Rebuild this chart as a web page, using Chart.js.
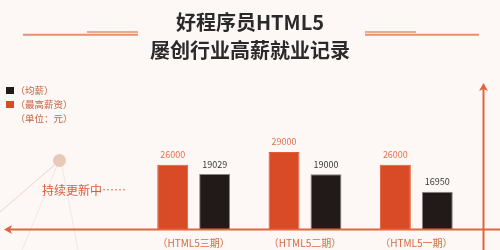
<!DOCTYPE html>
<html>
<head>
<meta charset="utf-8">
<script src="https://cdn.jsdelivr.net/npm/chart.js@4/dist/chart.umd.min.js"></script>
<style>
  html, body { margin: 0; padding: 0; background: #fdf8f5; }
  #wrap { width: 500px; height: 250px; position: relative; }
</style>
</head>
<body>
<div id="wrap"><canvas id="c" width="500" height="250"></canvas></div>
<script>
// Salary records per HTML5 class (元)
const categories = ['（HTML5三期）', '（HTML5二期）', '（HTML5一期）'];
const topSalary = [26000, 29000, 26000];   // 最高薪资
const avgSalary = [19029, 19000, 16950];   // 均薪
const titleLines = ['好程序员HTML5', '屡创行业高薪就业记录'];
const legendItems = ['（均薪）', '（最高薪资）', '（单位：元）'];
const note = '持续更新中……';

const CJK = '"Noto Sans CJK SC", "Noto Sans", sans-serif';
const ORANGE = '#d94b27';
const DARK = '#221a18';
const AXIS = '#e2643e';
const DECO = '#e8906e';

function arrow(ctx, tipX, tipY, dir) {
  // dir: 'left' or 'up'
  ctx.beginPath();
  if (dir === 'left') {
    ctx.moveTo(tipX, tipY);
    ctx.lineTo(tipX + 8, tipY - 4.5);
    ctx.lineTo(tipX + 6, tipY);
    ctx.lineTo(tipX + 8, tipY + 4.5);
  } else {
    ctx.moveTo(tipX, tipY);
    ctx.lineTo(tipX + 4.5, tipY + 8);
    ctx.lineTo(tipX, tipY + 6);
    ctx.lineTo(tipX - 4.5, tipY + 8);
  }
  ctx.closePath();
  ctx.fill();
}

const decor = {
  id: 'decor',
  beforeDraw(chart) {
    const ctx = chart.ctx;
    ctx.save();
    ctx.fillStyle = '#fdf8f5';
    ctx.fillRect(0, 0, chart.width, chart.height);

    // title
    ctx.fillStyle = '#2a2a2a';
    ctx.font = 'bold 20px ' + CJK;
    ctx.textAlign = 'center';
    ctx.textBaseline = 'middle';
    ctx.fillText(titleLines[0], 250, 22);
    ctx.fillText(titleLines[1], 250, 50);

    // title rules
    ctx.strokeStyle = DECO;
    ctx.lineWidth = 2;
    ctx.beginPath();
    ctx.moveTo(23, 34.7); ctx.lineTo(138, 34.7);
    ctx.moveTo(365, 34.7); ctx.lineTo(479, 34.7);
    ctx.stroke();
    ctx.lineWidth = 1.5;
    ctx.beginPath();
    ctx.moveTo(87, 32); ctx.lineTo(138, 32);
    ctx.moveTo(365, 32); ctx.lineTo(416, 32);
    ctx.stroke();

    // legend
    ctx.fillStyle = DARK;
    ctx.fillRect(6, 87, 8, 7);
    ctx.fillStyle = ORANGE;
    ctx.fillRect(6, 101, 8, 7);
    ctx.fillStyle = '#c4623f';
    ctx.font = '9.5px ' + CJK;
    ctx.textAlign = 'left';
    ctx.fillText(legendItems[0], 15.5, 90.5);
    ctx.fillText(legendItems[1], 15.5, 104.5);
    ctx.fillText(legendItems[2], 15.5, 118.5);

    // decorative node and threads
    ctx.strokeStyle = '#f2e6df';
    ctx.lineWidth = 1;
    ctx.beginPath();
    ctx.moveTo(59, 161); ctx.lineTo(22, 250);
    ctx.moveTo(61, 161); ctx.lineTo(78, 250);
    ctx.stroke();
    ctx.strokeStyle = '#e9d4c8';
    ctx.beginPath();
    ctx.moveTo(59, 161); ctx.lineTo(0, 212);
    ctx.stroke();
    ctx.fillStyle = '#e6c9b9';
    ctx.beginPath();
    ctx.arc(59.5, 160.5, 6.5, 0, Math.PI * 2);
    ctx.fill();

    ctx.fillStyle = '#e05a35';
    ctx.font = '12px ' + CJK;
    ctx.fillText(note, 42, 190);
    ctx.restore();
  },
  afterDatasetsDraw(chart) {
    const ctx = chart.ctx;
    ctx.save();
    // axes
    ctx.strokeStyle = AXIS;
    ctx.fillStyle = AXIS;
    ctx.lineWidth = 2;
    ctx.beginPath();
    ctx.moveTo(9, 229.5); ctx.lineTo(500, 229.5);
    ctx.moveTo(483.5, 89); ctx.lineTo(483.5, 250);
    ctx.stroke();
    arrow(ctx, 4, 229.5, 'left');
    arrow(ctx, 483.5, 83, 'up');

    // value labels
    ctx.font = '9px ' + CJK;
    ctx.textAlign = 'center';
    ctx.textBaseline = 'middle';
    const colors = ['#e27352', '#3a3a3a'];
    chart.data.datasets.forEach((ds, di) => {
      const meta = chart.getDatasetMeta(di);
      ctx.fillStyle = colors[di];
      meta.data.forEach((bar, i) => {
        ctx.fillText(String(ds.data[i]), bar.x, bar.y - 10);
      });
    });

    // category labels
    const x = chart.scales.x;
    ctx.fillStyle = '#d86a44';
    ctx.font = '10px ' + CJK;
    categories.forEach((c, i) => {
      ctx.fillText(c, x.getPixelForValue(i), 243);
    });
    ctx.restore();
  }
};

new Chart(document.getElementById('c'), {
  type: 'bar',
  data: {
    labels: categories,
    datasets: [
      {
        label: '最高薪资',
        data: topSalary,
        yAxisID: 'yTop',
        backgroundColor: ORANGE,
        borderColor: '#e25a33',
        borderWidth: 1,
        categoryPercentage: 0.7534,
        barPercentage: 0.738
      },
      {
        label: '均薪',
        data: avgSalary,
        yAxisID: 'yAvg',
        backgroundColor: DARK,
        borderColor: '#8c8480',
        borderWidth: 1,
        categoryPercentage: 0.7534,
        barPercentage: 0.738
      }
    ]
  },
  options: {
    responsive: false,
    animation: false,
    events: [],
    layout: { padding: { left: 138, right: 28, top: 130, bottom: 21 } },
    plugins: { legend: { display: false }, tooltip: { enabled: false }, title: { display: false } },
    scales: {
      x: { display: false },
      yTop: { display: false, min: 10800, max: 34200 },
      yAvg: { display: false, min: 12600, max: 24190 }
    }
  },
  plugins: [decor]
});
</script>
</body>
</html>
